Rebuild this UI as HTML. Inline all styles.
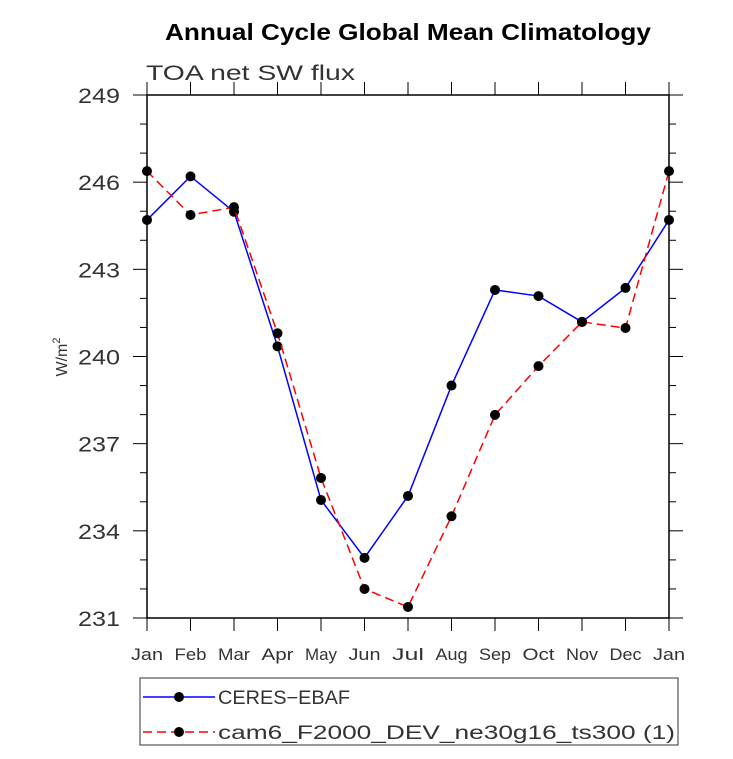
<!DOCTYPE html>
<html><head><meta charset="utf-8"><style>
body{margin:0;background:#fff;width:733px;height:754px;overflow:hidden}
text{font-family:"Liberation Sans",sans-serif}
</style></head><body>
<svg id="chart" width="733" height="754" viewBox="0 0 733 754">
<text x="165" y="40" font-size="23" font-weight="bold" textLength="486" lengthAdjust="spacingAndGlyphs">Annual Cycle Global Mean Climatology</text>
<text x="146" y="80" font-size="21" fill="#333" textLength="209" lengthAdjust="spacingAndGlyphs">TOA net SW flux</text>
<g id="axes"></g>
<g id="series"></g>
<g>
<rect x="140" y="678" width="538" height="67" fill="none" stroke="#333" stroke-width="1"/>
<line x1="143" y1="697" x2="215" y2="697" stroke="#00f" stroke-width="1.5"/>
<circle cx="179" cy="697" r="5" fill="#000"/>
<text x="218" y="704" font-size="19" fill="#333" textLength="132" lengthAdjust="spacingAndGlyphs">CERES−EBAF</text>
<line x1="143" y1="732" x2="215" y2="732" stroke="#f00" stroke-width="1.5" stroke-dasharray="9,5"/>
<circle cx="179" cy="732" r="5" fill="#000"/>
<text x="218" y="739" font-size="19" fill="#333" textLength="457" lengthAdjust="spacingAndGlyphs">cam6_F2000_DEV_ne30g16_ts300 (1)</text>
</g>
</svg>
<script>
const months=["Jan","Feb","Mar","Apr","May","Jun","Jul","Aug","Sep","Oct","Nov","Dec","Jan"];
const ceres=[244.7,246.2,244.98,240.35,235.06,233.07,235.2,239.0,242.29,242.08,241.19,242.36,244.7];
const model=[246.38,244.87,245.14,240.8,235.82,232.0,231.38,234.5,237.99,239.67,241.19,240.98,246.38];
const yTicks=[231,234,237,240,243,246,249];
const NS="http://www.w3.org/2000/svg";
const L=147,R=669,T=95,B=618,ymin=231,ymax=249;
const xs=i=>L+(R-L)*i/(months.length-1);
const ys=v=>B-(v-ymin)/(ymax-ymin)*(B-T);
function mk(tag,at,parent){const e=document.createElementNS(NS,tag);for(const k in at)e.setAttribute(k,at[k]);parent.appendChild(e);return e;}
const ax=document.getElementById('axes');
const frame=mk('rect',{x:L,y:T,width:R-L,height:B-T,fill:'none',stroke:'#000','stroke-width':1.5},ax);


for(let v=ymin;v<=ymax;v+=1){const major=yTicks.includes(v);const y=ys(v);const len=major?14:7;
mk('line',{x1:L-len,y1:y,x2:L,y2:y,stroke:'#000','stroke-width':1},ax);
mk('line',{x1:R,y1:y,x2:R+len,y2:y,stroke:'#000','stroke-width':1},ax);
if(major){const t=mk('text',{x:L-69,y:y+8,'font-size':21,fill:'#333',textLength:42,lengthAdjust:'spacingAndGlyphs'},ax);t.textContent=v;

}}
months.forEach((m,i)=>{const x=xs(i);
mk('line',{x1:x,y1:B,x2:x,y2:B+13,stroke:'#000','stroke-width':1},ax);
mk('line',{x1:x,y1:T-13,x2:x,y2:T,stroke:'#000','stroke-width':1},ax);
const t=mk('text',{x:x-16,y:B+42,'font-size':17,fill:'#333',textLength:32,lengthAdjust:'spacingAndGlyphs'},ax);t.textContent=m;

});
const yt=mk('text',{x:0,y:0,'font-size':16,fill:'#333','text-anchor':'middle',transform:'translate(67,357) rotate(-90)'},ax);
yt.innerHTML='W/m<tspan dy="-7" font-size="11">2</tspan>';


const sg=document.getElementById('series');
function series(data,color,dash,name){
const p=mk('polyline',{points:data.map((v,i)=>xs(i)+','+ys(v)).join(' '),fill:'none',stroke:color,'stroke-width':1.5,'stroke-dasharray':dash},sg);


data.forEach((v,i)=>{const c=mk('circle',{cx:xs(i),cy:ys(v),r:5,fill:'#000'},sg);

});}
series(ceres,'#00f','none','ceres');
series(model,'#f00','9,5','model');
</script>
</body></html>
